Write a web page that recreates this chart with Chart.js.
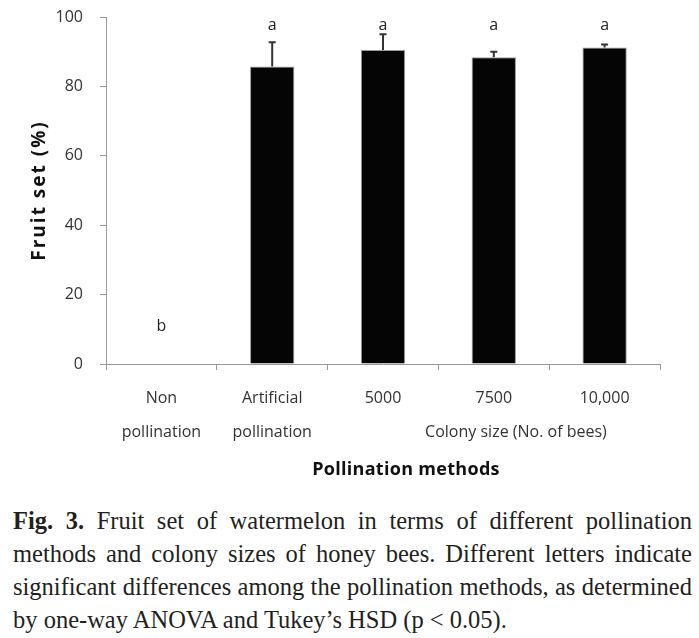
<!DOCTYPE html>
<html>
<head>
<meta charset="utf-8">
<script src="https://cdn.jsdelivr.net/npm/chart.js@4"></script>
<style>
  html, body { margin: 0; padding: 0; background: #fff; }
  #wrap { position: relative; width: 699px; height: 638px; overflow: hidden; }
  #box { position: absolute; left: 0; top: 0; width: 699px; height: 490px; }
  #caption { position: absolute; left: 13px; top: 504px; width: 679px;
    font-family: "Liberation Serif", "Times New Roman", serif; font-size: 24.5px;
    line-height: 33px; color: #231f20; }
  #caption div { white-space: nowrap; text-align: justify; text-align-last: justify; }
  #caption div.last { text-align-last: left; }
</style>
</head>
<body>
<div id="wrap">
  <div id="box"><canvas id="fruitChart"></canvas></div>
  <div id="caption">
    <div><b>Fig. 3.</b> Fruit set of watermelon in terms of different pollination</div>
    <div>methods and colony sizes of honey bees. Different letters indicate</div>
    <div>significant differences among the pollination methods, as determined</div>
    <div class="last">by one-way ANOVA and Tukey’s HSD (p &lt; 0.05).</div>
  </div>
</div>
<script>
const categories = [["Non", "pollination"], ["Artificial", "pollination"], "5000", "7500", "10,000"];
const fruitSet = [0, 85.7, 90.5, 88.4, 91.2];
const fruitErr = [0, 7.0, 4.5, 1.6, 0.9];
const letters = ["b", "a", "a", "a", "a"];
const letterLevel = [10.8, 97.6, 97.6, 97.6, 97.6];
const yTicks = [0, 20, 40, 60, 80, 100];

const FONT = "'Open Sans', 'Noto Sans', sans-serif";

// error bars, significance letters and the axis titles
const extras = {
  id: 'extras',
  afterDatasetsDraw(chart) {
    const ctx = chart.ctx;
    const x = chart.scales.x, y = chart.scales.y;
    const meta = chart.getDatasetMeta(0);
    ctx.save();
    ctx.strokeStyle = '#333';
    ctx.lineWidth = 2;
    meta.data.forEach((bar, i) => {
      if (!fruitErr[i]) return;
      const top = y.getPixelForValue(fruitSet[i] + fruitErr[i]);
      ctx.beginPath();
      ctx.moveTo(bar.x, bar.y);
      ctx.lineTo(bar.x, top);
      ctx.moveTo(bar.x - 3.5, top);
      ctx.lineTo(bar.x + 3.5, top);
      ctx.stroke();
    });
    ctx.fillStyle = '#222';
    ctx.font = '16px ' + FONT;
    ctx.textAlign = 'center';
    ctx.textBaseline = 'middle';
    letters.forEach((l, i) => {
      ctx.fillText(l, x.getPixelForValue(i), y.getPixelForValue(letterLevel[i]));
    });
    const step = x.getPixelForValue(1) - x.getPixelForValue(0);
    const area = chart.chartArea;
    ctx.fillStyle = '#333';
    ctx.fillText('Colony size (No. of bees)', x.getPixelForValue(3) + step * 0.2, area.bottom + 68);
    ctx.fillStyle = '#111';
    ctx.font = 'bold 18px ' + FONT;
    ctx.letterSpacing = '0.3px';
    ctx.fillText('Pollination methods', (area.left + area.right) / 2 + 23, area.bottom + 106);
    ctx.font = 'bold 19px ' + FONT;
    ctx.letterSpacing = '2px';
    ctx.translate(40, (area.top + area.bottom) / 2);
    ctx.rotate(-Math.PI / 2);
    ctx.fillText('Fruit set (%)', 0, 0);
    ctx.restore();
  }
};

new Chart(document.getElementById('fruitChart'), {
  type: 'bar',
  data: {
    labels: categories,
    datasets: [{
      data: fruitSet,
      backgroundColor: '#050505',
      borderColor: '#999',
      borderWidth: ctx => (ctx.raw > 0 ? 1 : 0),
      barPercentage: 0.4,
      categoryPercentage: 1
    }]
  },
  options: {
    responsive: true,
    maintainAspectRatio: false,
    animation: false,
    layout: { padding: { top: 17, right: 39, left: 0, bottom: 0 } },
    plugins: { legend: { display: false }, tooltip: { enabled: false } },
    scales: {
      x: {
        grid: { drawOnChartArea: false, tickLength: 6, color: '#999' },
        border: { color: '#999' },
        ticks: { color: '#333', padding: 11, maxRotation: 0, font: { family: FONT, size: 16, lineHeight: 2.125 } },
        afterFit: s => { s.height = 126; s.paddingLeft = 0; s.paddingRight = 0; }
      },
      y: {
        min: 0, max: 100,
        grid: { drawOnChartArea: false, tickLength: 6, color: '#999' },
        border: { color: '#999' },
        afterBuildTicks: s => { s.ticks = yTicks.map(v => ({ value: v })); },
        ticks: { color: '#333', padding: 17, font: { family: FONT, size: 16 } },
        afterFit: s => { s.width = 106; s.paddingTop = 0; s.paddingBottom = 0; }
      }
    }
  },
  plugins: [extras]
});
</script>
</body>
</html>
